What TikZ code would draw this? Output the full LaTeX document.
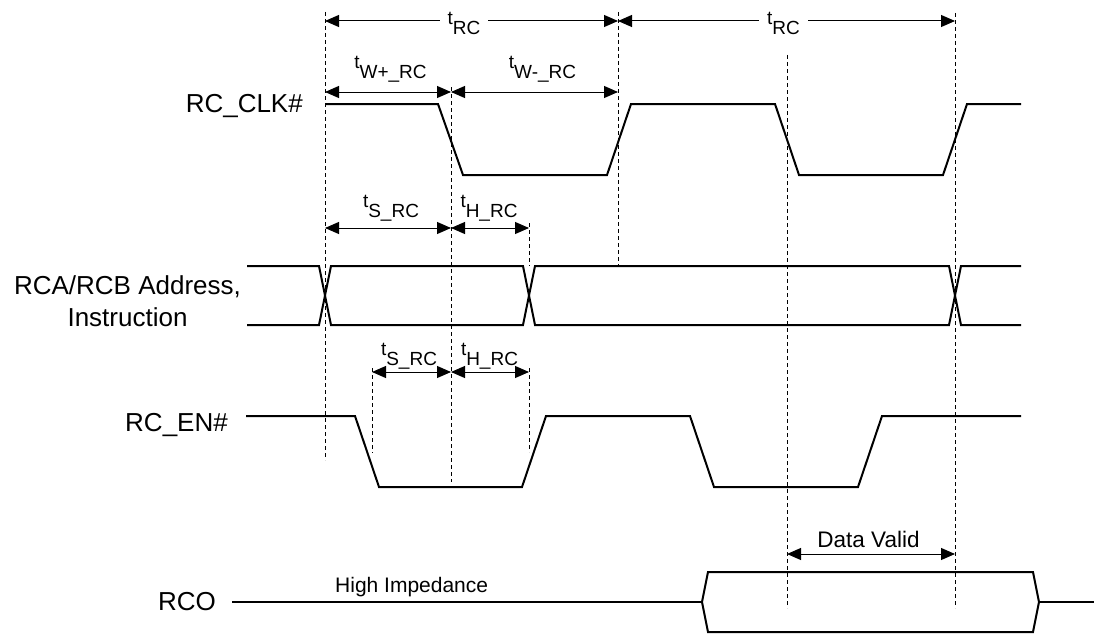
\documentclass[tikz,border=0pt]{standalone}
\usepackage{fontspec}
\setmainfont{Liberation Sans}
\usetikzlibrary{arrows.meta}
\newcommand\tlab[1]{t\raisebox{-10pt}{#1}}
\begin{document}
\begin{tikzpicture}[x=1pt,y=-1pt,
  wave/.style={line width=2pt},
  dim/.style={line width=1pt,{Triangle[length=14pt,width=12pt]}-{Triangle[length=14pt,width=12pt]}},
  guide/.style={line width=0.9pt,dash pattern=on 4pt off 3pt},
  siglabel/.style={font=\fontsize{26}{30}\selectfont,inner sep=0pt},
  tlabel/.style={font=\fontsize{19}{22}\selectfont,inner sep=0pt,anchor=base},
  tgap/.style={tlabel,fill=white,inner xsep=8pt,inner ysep=2pt}]
\useasboundingbox (0,0) rectangle (1094,634);
% guide lines
\coordinate (g1t) at (325,12);  \coordinate (g1b) at (325,460);
\coordinate (g2t) at (451,87);  \coordinate (g2b) at (451,482);
\coordinate (g3t) at (618,12);  \coordinate (g3b) at (618,266);
\coordinate (g4t) at (787,55);  \coordinate (g4b) at (787,608);
\coordinate (g5t) at (955,13);  \coordinate (g5b) at (955,608);
\coordinate (g6t) at (372,368); \coordinate (g6b) at (372,453);
\coordinate (g7t) at (529,223); \coordinate (g7b) at (529,266);
\coordinate (g8t) at (529,368); \coordinate (g8b) at (529,452);
\foreach \i in {1,...,8} \draw[guide] (g\i t) -- (g\i b);
% dimension arrows
\coordinate (rc0) at (325,21); \coordinate (rc1) at (618,21); \coordinate (rc2) at (955,21);
\draw[dim] (rc0) -- (rc1);
\draw[dim] (rc1) -- (rc2);
\coordinate (w0) at (325,92); \coordinate (w1) at (451,92); \coordinate (w2) at (618,92);
\draw[dim] (w0) -- (w1);
\draw[dim] (w1) -- (w2);
\coordinate (sa0) at (325,228); \coordinate (sa1) at (451,228); \coordinate (sa2) at (529,228);
\draw[dim] (sa0) -- (sa1);
\draw[dim] (sa1) -- (sa2);
\coordinate (sb0) at (372,372); \coordinate (sb1) at (451,372); \coordinate (sb2) at (529,372);
\draw[dim] (sb0) -- (sb1);
\draw[dim] (sb1) -- (sb2);
\coordinate (dv0) at (787,554); \coordinate (dv1) at (955,554);
\draw[dim] (dv0) -- (dv1);
% timing labels
\node[tgap] (trc1) at (464,25) {\tlab{RC}};
\node[tgap] (trc2) at (783.5,25) {\tlab{RC}};
\node[tlabel] (twp) at (390.5,68) {\tlab{W+\_RC}};
\node[tlabel] (twm) at (542.5,68) {\tlab{W-\_RC}};
\node[tlabel] (tsa) at (391,207) {\tlab{S\_RC}};
\node[tlabel] (tha) at (489,207) {\tlab{H\_RC}};
\node[tlabel] (tsb) at (409,355) {\tlab{S\_RC}};
\node[tlabel] (thb) at (489.5,355) {\tlab{H\_RC}};
\node[font=\fontsize{22.5}{26}\selectfont,inner sep=0pt,anchor=base] (dvl) at (868.5,547) {Data Valid};
\node[font=\fontsize{21}{24}\selectfont,inner sep=0pt,anchor=base west] (hiz) at (335,592) {High Impedance};
% signal labels
\node[siglabel,anchor=base east] (lclk) at (303,112) {RC\_CLK\#};
\node[siglabel,anchor=base] (laddr1) at (127.5,294) {RCA/RCB Address,};
\node[siglabel,anchor=base] (laddr2) at (127.5,326) {Instruction};
\node[siglabel,anchor=base east] (len) at (228,431) {RC\_EN\#};
\node[siglabel,anchor=base east] (lrco) at (216,610) {RCO};
% waveforms
\draw[wave] (325,104) -- (438,104) -- (463,175) -- (607,175) -- (631,104) -- (775,104) -- (799,175) -- (943,175) -- (967,104) -- (1021,104);
\draw[wave] (247,266) -- (319,266) -- (331,325) -- (523,325) -- (535,266) -- (949,266) -- (961,325) -- (1021,325);
\draw[wave] (247,325) -- (319,325) -- (331,266) -- (523,266) -- (535,325) -- (949,325) -- (961,266) -- (1021,266);
\draw[wave] (246,416) -- (355,416) -- (379,487) -- (522,487) -- (546,416) -- (690,416) -- (714,487) -- (858,487) -- (882,416) -- (1021,416);
\draw[wave] (232,602) -- (702,602);
\draw[wave] (702,602) -- (708,572) -- (1033,572) -- (1039,602) -- (1033,632) -- (708,632) -- cycle;
\draw[wave] (1039,602) -- (1094,602);
\end{tikzpicture}
\end{document}
